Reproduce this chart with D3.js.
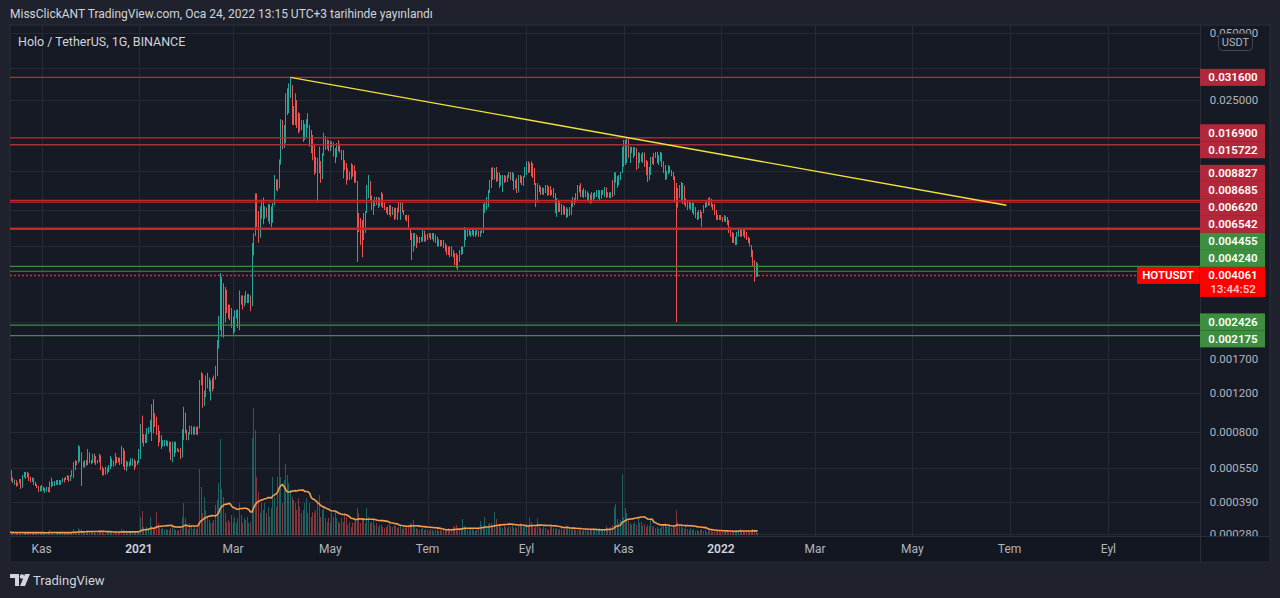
<!DOCTYPE html>
<html>
<head>
<meta charset="utf-8">
<script src="https://cdn.jsdelivr.net/npm/d3@7"></script>
<style>
  body { margin: 0; background: #1f222d; overflow: hidden; }
  svg { display: block; font-family: Roboto, "Noto Sans", sans-serif; }
</style>
</head>
<body>
<svg id="chart" width="1280" height="598"></svg>
<script>
// HOT/USDT daily candles, first candle 2020-10-12, last 2022-01-24
// prices are in micro-USDT (1e-6)
var UNIT = 1e-6;
var startDay = Date.UTC(2020, 9, 12);
var firstOpen = 500;

var closes = [
  540,485,475,487,460,470,487,450,505,530, 505,525,490,478,495,468,460,450,432,455,
  440,437,445,450,436,475,462,475,478,482, 483,470,485,495,492,503,510,485,508,535,
  575,590,585,690,600,585,587,595,590,650, 600,595,630,625,580,595,630,560,520,515,
  525,545,560,610,595,565,615,610,590,575, 680,660,545,560,585,565,600,605,555,590,
  590,655,830,760,720,730,810,830,880,1040, 900,860,790,720,770,690,700,705,730,700,
  720,610,620,700,655,670,665,615,790,980, 820,760,790,840,845,800,830,800,840,
  // feb - mar 2021
  1350,1470,1050,1150,1420,1300,1240,1330,1250,1380, 1430,2000,2550,4000,2700,2500,3500,2900,2650,2600,
  2450,2250,2700,2800,2450,3300,3200,3000,3050,3350, 3150,3300,3000,5500,6100,8600,7100,6000,8000,8600,
  7300,8200,7500,8400,8300,7000,8400,11000,10600,10800,
  // apr - jun 2021
  13400,20300,15500,16500,26000,22000,28500,29000,20000,19300, 25000,19000,18000,19000,19800,16500,17000,20200,19000,15700,
  15000,14200,12500,12000,13500,13000,11000,14000,17000,15500, 16500,15200,16000,16100,14300,13800,16000,15000,14600,13500,
  13200,12200,11000,11900,11000,12800,12700,12000,10800,7600, 6500,6000,5900,7600,7800,9900,10800,9300,8200,8800,
  9000,8500,9000,9000,9500,8400,8100,7800,8200,8400, 7800,8200,7300, 7750,8160,7900,
  // mid jun 2021 - jan 2022
  8600,7830,7600,7590,7500,6600,6000,5400,5500,6200, 5850,6050,5750,6000,6450,5800,6150,6200,6300,5950,
  6100,5800,5700,5500,5800,5500,5750,5450,5250,5100, 5050,4950,5000,4920,4600,4450,4950,5200,5400,5450,
  6600,6100,6450,6300,6400,6550,6400,6150,6450,6200, 6450,6600,8300,8600,9000,9700,10800,12300,11000,12000,
  10800,11800,10300,11300,11400,10700,11000,11400,11800,11000, 11700,10000,10800,9600,11300,10700,10400,11200,12400,13100,
  11800,12000,13000,11500,10500,8600,10300,10200,9500,9800, 10000,9700,10200,9500,9400,9350,9100,7900,8900,8800,
  8000,7650,8300,7650,8100,7500,7700,8700,9000,8900, 9400,10200,9800,9250,9800,9150,9700,8950,9400,8650,
  9500,9000,9600,9750,9800,9000,9700,9800,10100,9200, 9600,9150,9550,9300,11700,11000,10300,11300,11800,15000,
  16300,13000,16700,14000,15300,15300,14000,15200,12300,13100, 14300,13300,14500,12600,11700,10900,11500,13600,13200,14200,
  14500,13100,14000,14500,12700,11800,11000,11600,12600,11800, 11400,11000,9000,8200,9900,10200,9000,10300,8700,8300,
  8800,8200,8400,8600,7800,7500,7250,7900,7400,7800, 8300,8600,8800,8400,9000,8300,8050,7650,7250,7400,
  7550,7250,7100,7500,7100,6900,6400,6100,5750,5800, 5600,6300,6600,6500,6100,6450,6000,5900,5700,5500,
  5000,4500,4000,4600,4061
];

var highs = [
  546,510,500,490,482,475,492,492,513,530, 525,530,505,505,500,498,478,468,458,458,
  463,455,450,455,452,480,500,480,482,487, 487,487,487,498,498,505,513,507,513,540,
  587,599,594,700,680,650,590,599,599,672, 650,599,640,640,600,600,640,600,555,550,
  560,555,569,625,599,590,645,620,615,615, 695,680,640,595,590,590,610,610,600,595,
  595,672,870,950,785,785,835,845,907,1070, 1125,975,940,861,810,776,737,737,737,725,
  725,725,725,725,725,680,670,680,826,1040, 915,800,800,855,855,840,850,845,850,
  1373,1492,1350,1230,1440,1480,1410,1370,1400,1440, 1590,2080,2666,4160,3900,3740,3600,3350,3000,3000,
  2900,2650,2830,2850,2850,3470,3300,3300,3300,3450, 3350,3350,3300,5680,6300,9500,9500,7900,8300,8900,
  9100,8300,8200,8500,8500,8300,8600,11490,11000,11000,
  13500,20500,18300,19300,26800,28200,29700,31600,29170,23500, 26800,24200,22000,21800,20300,20300,19500,20500,21800,19300,
  18300,17400,15900,13900,13700,15400,13300,14400,17800,17200, 16600,16200,16300,16300,16000,15200,16000,16500,15900,14900,
  14900,13400,13000,12300,11800,13000,12750,12100,11500,10800, 7750,7360,7210,7750,7900,10360,11490,9840,9050,8870,
  9150,9150,9150,9050,9630,9150,8690,8250,8250,8420, 8160,8250,8000, 8160,8200,8690,
  8690,8420,8000,7600,7600,7590,6380,6300,6300,6300, 5860,6060,6060,6060,6500,6300,6200,6250,6300,6300,
  6300,6300,6200,6060,5900,5860,5860,5860,5680,5560, 5480,5480,5500,5280,5120,5120,5020,5280,5480,5480,
  6710,6640,6500,6500,6450,6640,6450,6450,6500,6450, 6450,6640,8520,8690,9150,9840,10910,12370,12490,12370,
  12490,11850,11730,11490,11490,11490,11400,11490,11850,11850, 11850,11490,10910,11140,11490,11490,11350,11350,12490,13260,
  13260,13010,13260,12750,12370,10580,10580,10360,10150,10100, 10050,10360,10360,10150,10250,9840,10040,9530,9050,8870,
  8700,8520,8400,8160,8240,8000,8240,8870,9150,9050, 9530,10360,10300,10580,9840,10040,9840,9630,9530,9340,
  9630,9530,9630,9840,9840,9530,9840,9840,10150,10040, 9630,9530,9630,10910,11850,11800,11350,11490,11850,15360,
  16520,16520,16900,15680,15360,15400,15200,15360,15200,14600, 14440,14140,14600,14140,13430,13260,12490,13850,13900,14440,
  14600,14600,14140,14600,14140,13260,12750,12000,12750,12490, 12100,11850,11350,10580,10040,10360,10690,10580,10040,9050,
  8870,8870,8700,8690,8520,8240,7830,8000,8000,7830, 8420,8690,8870,9050,9150,8870,8520,8520,8000,7600,
  7590,7590,7440,7590,7440,7440,7210,6710,6380,6300, 6060,6380,6640,6500,6500,6500,6500,6380,6060,5980,
  5560,5280,4760,4670,4520
];

var lows = [
  497,482,472,463,455,458,470,444,472,500, 495,500,482,475,478,463,458,448,430,439,
  435,435,426,432,430,428,452,458,458,463, 463,463,463,475,475,487,487,478,482,505,
  497,540,569,580,590,458,555,555,565,569, 580,575,580,580,570,578,585,540,510,512,
  520,520,530,545,560,560,595,580,585,569, 580,560,540,534,560,560,569,565,540,560,
  569,580,605,715,690,715,715,785,800,730, 790,845,776,690,760,672,690,690,695,690,
  650,599,585,645,645,655,650,605,665,737, 790,737,737,780,780,780,780,780,775,
  830,1300,1030,1100,1240,1260,1220,1110,1220,1260, 1420,1470,1900,2300,2150,2130,2900,2750,2600,2550,
  2360,2200,2360,2600,2360,2300,3000,2850,2950,3050, 3050,3050,2800,2950,5000,7000,6700,5700,6500,7300,
  6900,7500,7400,7100,6900,6700,7800,9200,9800,9700,
  10000,12800,15000,15200,16000,21400,21800,25500,19300,19300, 21000,18700,17700,18800,18300,16200,16800,17500,18700,15400,
  14400,13400,11500,11700,8700,11700,10600,11500,14000,14900, 15000,14700,14700,15300,13900,13000,14100,14700,14500,13400,
  11100,12100,10400,10900,10900,11300,11300,10600,10600,4670, 6370,5560,4900,5860,6300,7750,9050,8870,8000,7590,
  8300,8420,8160,8300,8300,8160,8000,7750,7590,7590, 7450,7590,7210, 7700,7210,7800,
  7210,7800,7590,7210,7100,6500,5860,4760,5200,5680, 5390,5680,5680,5860,5760,5760,5760,5860,5980,5860,
  5900,5760,5680,5480,5480,5480,5560,5390,5200,5020, 5020,4900,4950,4900,4520,4380,4290,4670,5020,5060,
  5480,5860,6060,6150,6060,6170,6060,6060,6170,6060, 6060,6300,6300,7750,8000,8240,9530,10040,10910,11490,
  10690,10910,10040,10580,9630,10580,10700,10690,11140,10910, 10800,9840,10150,9530,10360,10580,10360,10250,11350,11490,
  11730,11850,11350,11140,10360,8240,9340,9630,9340,9400, 9340,9530,9250,9340,9250,9340,9050,7750,7440,7830,
  7830,7590,7750,7590,7360,7440,7590,7590,8240,8400, 8690,8870,9600,9150,9150,9050,9150,8870,8690,8520,
  8870,8870,9150,9150,9000,8870,9150,9340,9150,9050, 9150,9050,9050,9150,9530,10600,10040,10360,10910,11730,
  12490,12750,14440,13710,13010,14440,13710,14440,12100,13000, 13010,13200,13010,12490,11490,10690,11350,12370,12900,12750,
  13710,13010,12750,13260,12490,11730,10910,11000,11850,11730, 11350,10910,8690,2500,8870,9050,8870,8520,8420,8240,
  8000,8100,8000,7750,7590,7360,7210,7590,7360,6710, 7750,8160,8240,8350,8520,8240,8000,7590,7210,7200,
  7210,7210,7060,7210,7060,6850,6300,6060,5680,5680, 5560,5560,6060,6060,6060,6300,5980,5860,5680,5480,
  4910,4430,3800,4290,4000
];

// volume, relative units
var volumes = [
  3,2,3,2,2,3,2,3,2,2, 3,2,2,3,2,2,2,3,2,2, 3,2,2,2,3,5,3,2,2,2, 2,2,3,2,2,2,3,2,2,3,
  6,4,3,7,5,6,3,3,2,5, 4,3,3,3,2,2,4,3,3,2, 2,3,3,5,3,2,4,3,2,2, 6,5,4,3,2,3,3,3,2,3,
  3,4,
  18,24,8,5,8,5,18,9,6,8, 23,12,7,6,7,5,6,5,5,7, 9,6,5,4,5,6,18,32,17,8, 6,12,10,6,8,6,9,
  66,48,22,38,25,18,15,12,12,15, 30,35,52,96,46,38,22,13,15,13, 20,13,18,12,17,32,20,12,17,15,
  18,12,13,97,127,105,58,43,22,32, 25,32,22,28,18,27,58,38,28,58, 101,58,32,55,71,60,52,45,38,35,
  32,25,37,28,22,25,32,37,22,32, 18,23,22,25,35,40,18,25,28,17, 13,17,12,22,18,23,17,13,12,17,
  13,22,18,10,13,8,12,13,15,27, 22,12,17,15,12,27,18,12,13,15, 10,12,8,10,10,8,7,
  8,10,12,9,8,10,
  9,7,8,10,6,8,7,9,10,12, 11,15,9,7,6,5,6,7,5,6, 5,4,6,5,4,5,6,4,5,4, 5,6,5,7,5,6,8,9,10,7,
  6,5,16,9,6,5,4,5,6,5, 4,5,6,14,10,9,18,9,11,12, 12,10,23,16,10,9,8,7,9,8, 7,9,8,10,7,8,7,9,12,10,
  8,9,11,10,18,13,9,7,8,17, 9,7,6,8,7,6,5,11,8,7, 6,7,5,6,8,5,7,9,8,6, 7,5,6,5,4,6,5,4,5,6,
  5,4,5,6,4,5,6,5,7,6, 5,6,9,7,6,8,10,28,31,16, 12,15,61,18,27,22,14,12,10,11, 13,10,17,12,13,9,11,8,10,9,
  15,8,9,7,8,6,7,9,10,12, 9,8,10,7,9,8,25,13,10,9, 7,6,8,6,5,7,5,6,4,5, 4,5,6,4,5,3,4,5,4,3,
  4,3,5,4,3,4,3,4,5,3, 3,4,3,4,5,4,6,5,4,3, 4,5,3,4,6,5,4,2
];

// horizontal levels drawn on the chart
var levelPrices = [0.0316, 0.0169, 0.015722, 0.008827, 0.008685, 0.00662, 0.006542, 0.004455, 0.00424, 0.002426, 0.002175];
var levelKinds = ['red', 'red', 'red2', 'red', 'red', 'red', 'red', 'green', 'green', 'green', 'green'];
var lastPrice = 0.004061;
var symbol = 'HOTUSDT';
var countdown = '13:44:52';
var trendLine = [['2021-04-06', 0.0316], ['2022-06-29', 0.0084]];

var priceTicks = [0.05, 0.035, 0.025, 0.017, 0.012, 0.008, 0.0055, 0.0025, 0.0017, 0.0012, 0.0008, 0.00055, 0.00039, 0.00028];
var monthTicks = ['2020-11-01', '2021-01-01', '2021-03-01', '2021-05-01', '2021-07-01', '2021-09-01',
                  '2021-11-01', '2022-01-01', '2022-03-01', '2022-05-01', '2022-07-01', '2022-09-01'];
var monthLabels = ['Kas', '2021', 'Mar', 'May', 'Tem', 'Eyl', 'Kas', '2022', 'Mar', 'May', 'Tem', 'Eyl'];

var svg = d3.select('#chart');
var plot = {left: 10, top: 26, right: 1200, bottom: 536};
var DAY = 864e5;

var x = d3.scaleUtc()
  .domain([new Date(startDay), new Date(Date.UTC(2022, 9, 28))])
  .range([9.8, 1199.3]);
var y = d3.scaleLog().domain([0.025, 0.00028]).range([100, 533.5]);
var yVol = d3.scaleLinear().domain([0, 127]).range([535, 408]);

var candles = closes.map(function(c, i) {
  var o = i === 0 ? firstOpen : closes[i - 1];
  return {
    date: new Date(startDay + i * DAY),
    open: o * UNIT,
    close: c * UNIT,
    high: Math.max(highs[i], o, c) * UNIT,
    low: Math.min(lows[i], o, c) * UNIT,
    volume: volumes[i] || 0
  };
});
candles.forEach(function(d, i) {
  var win = candles.slice(Math.max(0, i - 19), i + 1);
  d.volMA = d3.mean(win, function(w) { return w.volume; });
});

// backgrounds
svg.append('rect').attr('width', 1280).attr('height', 598).attr('fill', '#1f222d');
svg.append('rect').attr('x', 10).attr('y', 25).attr('width', 1260).attr('height', 537)
  .attr('fill', '#161a25').attr('stroke', '#2a2e39');
svg.append('rect').attr('x', 10.5).attr('y', 536).attr('width', 1259).attr('height', 25.5).attr('fill', '#131722');

var defs = svg.append('defs');
defs.append('clipPath').attr('id', 'plotClip').append('rect')
  .attr('x', plot.left).attr('y', plot.top)
  .attr('width', plot.right - plot.left).attr('height', plot.bottom - plot.top);

var plotG = svg.append('g').attr('clip-path', 'url(#plotClip)');

// grid
plotG.selectAll('.hgrid').data(priceTicks).enter().append('line')
  .attr('x1', plot.left).attr('x2', plot.right)
  .attr('y1', function(d) { return Math.round(y(d)) + 0.5; })
  .attr('y2', function(d) { return Math.round(y(d)) + 0.5; })
  .attr('stroke', '#262a35');
plotG.selectAll('.vgrid').data(monthTicks).enter().append('line')
  .attr('x1', function(d) { return Math.round(x(new Date(d))) + 0.5; })
  .attr('x2', function(d) { return Math.round(x(new Date(d))) + 0.5; })
  .attr('y1', plot.top).attr('y2', plot.bottom)
  .attr('stroke', '#262a35');

// volume
plotG.selectAll('.vol').data(candles).enter().append('rect')
  .attr('x', function(d) { return Math.floor(x(d.date)); })
  .attr('width', 1)
  .attr('y', function(d) { return yVol(d.volume); })
  .attr('height', function(d) { return yVol(0) - yVol(d.volume); })
  .attr('fill', function(d) { return d.close >= d.open ? 'rgba(38,166,154,0.5)' : 'rgba(239,83,80,0.5)'; });

plotG.append('path').datum(candles)
  .attr('fill', 'none')
  .attr('stroke', '#f59d4f')
  .attr('stroke-width', 1.6)
  .attr('d', d3.line()
    .x(function(d) { return x(d.date); })
    .y(function(d) { return yVol(d.volMA); }));

// candles
plotG.selectAll('.candle').data(candles).enter().append('rect')
  .attr('x', function(d) { return Math.floor(x(d.date)); })
  .attr('width', 1)
  .attr('y', function(d) { return y(d.high); })
  .attr('height', function(d) { return Math.max(1, y(d.low) - y(d.high)); })
  .attr('fill', function(d) { return d.close >= d.open ? '#26a69a' : '#ef5350'; });

// levels
var levelColor = {red: '#c2282f', red2: '#a33138', green: '#3b8f3f'};
plotG.selectAll('.level').data(levelPrices).enter().append('line')
  .attr('x1', plot.left).attr('x2', plot.right)
  .attr('y1', function(d) { return y(d); })
  .attr('y2', function(d) { return y(d); })
  .attr('stroke', function(d, i) { return levelColor[levelKinds[i]]; })
  .attr('stroke-width', function(d, i) { return levelKinds[i] === 'green' ? 1.2 : 1.3; });

plotG.append('line')
  .attr('x1', x(new Date(trendLine[0][0]))).attr('y1', y(trendLine[0][1]))
  .attr('x2', x(new Date(trendLine[1][0]))).attr('y2', y(trendLine[1][1]))
  .attr('stroke', '#f2e33c').attr('stroke-width', 1.3);

plotG.append('line')
  .attr('x1', plot.left).attr('x2', 1137)
  .attr('y1', Math.round(y(lastPrice)) + 0.5).attr('y2', Math.round(y(lastPrice)) + 0.5)
  .attr('stroke', '#ff1a1a').attr('stroke-width', 1.3).attr('stroke-dasharray', '2 2');

// axes frames
svg.append('line').attr('x1', 1200.5).attr('x2', 1200.5).attr('y1', 25).attr('y2', 562).attr('stroke', '#2a2e39');
svg.append('line').attr('x1', 10).attr('x2', 1270).attr('y1', 536.5).attr('y2', 536.5).attr('stroke', '#2a2e39');

// label layout: stack overlapping labels, keep last price box fixed
var LH = 17;
var fixedTop = y(lastPrice) - 8.5, fixedBottom = fixedTop + 30;
var groups = levelPrices.map(function(p, i) {
  return {items: [{price: p, kind: levelKinds[i], want: y(p)}]};
}).sort(function(a, b) { return a.items[0].want - b.items[0].want; });
function place(g) {
  var n = g.items.length;
  var mean = d3.mean(g.items, function(d) { return d.want; });
  g.top = mean - n * LH / 2;
  if (g.top + n * LH > fixedTop && g.top < fixedBottom) {
    g.top = mean < y(lastPrice) ? fixedTop - n * LH : fixedBottom;
  }
  g.bottom = g.top + n * LH;
}
var merged = true;
while (merged) {
  merged = false;
  groups.forEach(place);
  for (var k = 0; k < groups.length - 1; k++) {
    if (groups[k].bottom > groups[k + 1].top) {
      groups[k].items = groups[k].items.concat(groups[k + 1].items);
      groups.splice(k + 1, 1);
      merged = true;
      break;
    }
  }
}
var labelData = [];
groups.forEach(function(g) {
  g.items.forEach(function(it, j) { labelData.push({price: it.price, kind: it.kind, top: g.top + j * LH}); });
});

// price axis labels, only those not covered by a label box
function covered(py) {
  if (py > fixedTop - 4 && py < fixedBottom + 4) return true;
  return labelData.some(function(l) { return py > l.top - 4 && py < l.top + LH + 4; });
}
var axisG = svg.append('g');
defs.append('clipPath').attr('id', 'axisClip').append('rect')
  .attr('x', 1201).attr('y', 26).attr('width', 69).attr('height', 510);
axisG.attr('clip-path', 'url(#axisClip)');
axisG.selectAll('.ptick').data(priceTicks.filter(function(t) { return !covered(y(t)); })).enter().append('text')
  .attr('x', 1234).attr('y', function(d) { return y(d) + 4; })
  .attr('text-anchor', 'middle')
  .attr('font-size', 11.5)
  .attr('fill', '#b2b5be')
  .text(function(d) { return d3.format('.6f')(d); });

var boxFill = {red: '#b2283a', red2: '#b2283a', green: '#3d8f3f'};
var labG = svg.append('g');
labG.selectAll('.lbox').data(labelData).enter().append('rect')
  .attr('x', 1200).attr('width', 65)
  .attr('y', function(d) { return d.top; }).attr('height', LH)
  .attr('fill', function(d) { return boxFill[d.kind]; });
labG.selectAll('.ltext').data(labelData).enter().append('text')
  .attr('x', 1233).attr('y', function(d) { return d.top + 12.5; })
  .attr('text-anchor', 'middle').attr('font-size', 11.5).attr('font-weight', 600)
  .attr('fill', '#ffffff')
  .text(function(d) { return d3.format('.6f')(d.price); });

// last price box + symbol tag
labG.append('rect').attr('x', 1200).attr('y', fixedTop).attr('width', 65).attr('height', 30).attr('fill', '#ff0000');
labG.append('text').attr('x', 1233).attr('y', fixedTop + 12.5).attr('text-anchor', 'middle')
  .attr('font-size', 11.5).attr('font-weight', 600).attr('fill', '#ffffff')
  .text(d3.format('.6f')(lastPrice));
labG.append('text').attr('x', 1233).attr('y', fixedTop + 26).attr('text-anchor', 'middle')
  .attr('font-size', 11.5).attr('font-weight', 600).attr('fill', '#ffc2c2')
  .text(countdown);
labG.append('rect').attr('x', 1137).attr('y', fixedTop).attr('width', 62).attr('height', LH).attr('fill', '#ff0000');
labG.append('text').attr('x', 1168).attr('y', fixedTop + 12.5).attr('text-anchor', 'middle')
  .attr('font-size', 11.5).attr('font-weight', 600).attr('fill', '#ffffff')
  .text(symbol);

// USDT button
svg.append('rect').attr('x', 1218.5).attr('y', 33.5).attr('width', 34).attr('height', 17).attr('rx', 4)
  .attr('fill', '#161a25').attr('stroke', '#434651');
svg.append('text').attr('x', 1235.5).attr('y', 46).attr('text-anchor', 'middle')
  .attr('font-size', 11).attr('fill', '#b2b5be').text('USDT');

// time axis
svg.selectAll('.tlabel').data(monthTicks).enter().append('text')
  .attr('x', function(d) { return x(new Date(d)); })
  .attr('y', 553)
  .attr('text-anchor', 'middle')
  .attr('font-size', 12)
  .attr('font-weight', function(d, i) { return /^\d+$/.test(monthLabels[i]) ? 600 : 400; })
  .attr('fill', function(d, i) { return /^\d+$/.test(monthLabels[i]) ? '#d1d4dc' : '#b2b5be'; })
  .text(function(d, i) { return monthLabels[i]; });

// header texts
svg.append('text').attr('x', 10).attr('y', 18).attr('font-size', 12).attr('fill', '#d1d4dc')
  .text('MissClickANT TradingView.com, Oca 24, 2022 13:15 UTC+3 tarihinde yayınlandı');
svg.append('text').attr('x', 18).attr('y', 46).attr('font-size', 12.5).attr('fill', '#d1d4dc')
  .text('Holo / TetherUS, 1G, BINANCE');

// TradingView mark
var logo = svg.append('g').attr('fill', '#d1d4dc');
logo.append('path').attr('d', 'M10,574 h9 v12 h-4 v-8 h-5 z');
logo.append('circle').attr('cx', 22).attr('cy', 576.5).attr('r', 2.3);
logo.append('path').attr('d', 'M25,574 h5 l-5,12 h-5 z');
svg.append('text').attr('x', 33).attr('y', 585).attr('font-size', 13).attr('fill', '#d1d4dc').text('TradingView');
</script>
</body>
</html>
